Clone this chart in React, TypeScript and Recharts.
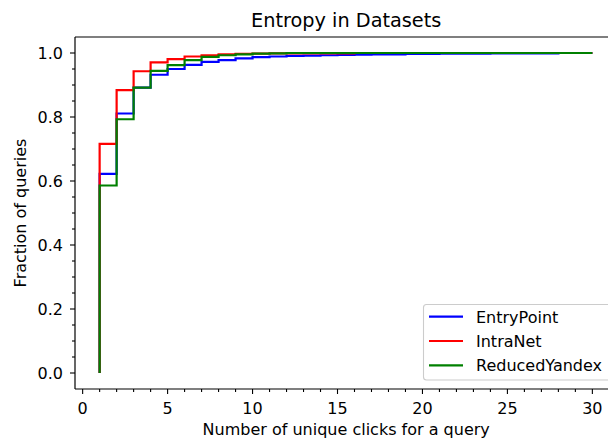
import React from 'react';
import { LineChart, Line, XAxis, YAxis, ReferenceLine, Customized } from 'recharts';

const xValues = [1, 2, 3, 4, 5, 6, 7, 8, 9, 10, 11, 12, 13, 14, 15, 16, 17, 18, 19, 20, 21, 22, 23, 24, 25, 26, 27, 28, 29, 30];
const startValue = 0;
const entryPoint = [0.622, 0.811, 0.892, 0.932, 0.950, 0.963, 0.972, 0.978, 0.983, 0.987, 0.989, 0.991, 0.992, 0.993, 0.994, 0.995, 0.996, 0.996, 0.997, 0.997, 0.998, 0.998, 0.998, 0.999, 0.999, 0.999, 0.999, 1.0, 1.0, 1.0];
const intraNet = [0.716, 0.884, 0.943, 0.971, 0.981, 0.989, 0.993, 0.996, 0.997, 0.998, 0.999, 0.999, 0.999, 0.999, 0.999, 1.0, 1.0, 1.0, 1.0, 1.0, 1.0, 1.0, 1.0, 1.0, 1.0, 1.0, 1.0, 1.0, 1.0, 1.0];
const reducedYandex = [0.586, 0.793, 0.892, 0.944, 0.962, 0.978, 0.988, 0.993, 0.996, 0.998, 0.999, 1.0, 1.0, 1.0, 1.0, 1.0, 1.0, 1.0, 1.0, 1.0, 1.0, 1.0, 1.0, 1.0, 1.0, 1.0, 1.0, 1.0, 1.0, 1.0];

const seriesNames = ['EntryPoint', 'IntraNet', 'ReducedYandex'];
const seriesColors = ['#0000ff', '#ff0000', '#008000'];
const seriesValues = [entryPoint, intraNet, reducedYandex];

const xTicks = [0, 1, 2, 3, 4, 5, 6, 7, 8, 9, 10, 11, 12, 13, 14, 15, 16, 17, 18, 19, 20, 21, 22, 23, 24, 25, 26, 27, 28, 29, 30, 31];
const yTicks = [0, 0.05, 0.1, 0.15, 0.2, 0.25, 0.3, 0.35, 0.4, 0.45, 0.5, 0.55, 0.6, 0.65, 0.7, 0.75, 0.8, 0.85, 0.9, 0.95, 1.0];

const title = 'Entropy in Datasets';
const xLabel = 'Number of unique clicks for a query';
const yLabel = 'Fraction of queries';

const FONT = '"DejaVu Sans", sans-serif';
const FS = 16;

const buildSeries = (vals: number[]) => [
  { x: xValues[0], y: startValue },
  ...xValues.map((x, i) => ({ x, y: vals[i] })),
];

const XTick = (props: any) => {
  const { x, y, payload } = props;
  const v = payload.value;
  const major = v % 5 === 0;
  return (
    <g>
      <line x1={x} x2={x} y1={y} y2={y + (major ? 5 : 3)} stroke="#000" strokeWidth={1.1} />
      {major && (
        <text x={x} y={y + 24.5} textAnchor="middle" fontSize={FS} fontFamily={FONT} fill="#000">
          {v}
        </text>
      )}
    </g>
  );
};

const YTick = (props: any) => {
  const { x, y, payload } = props;
  const v = payload.value;
  const major = Math.abs(v * 5 - Math.round(v * 5)) < 1e-6;
  return (
    <g>
      <line x1={x - (major ? 5 : 3)} x2={x} y1={y} y2={y} stroke="#000" strokeWidth={1.1} />
      {major && (
        <text x={x - 12} y={y + 5.8} textAnchor="end" fontSize={FS} fontFamily={FONT} fill="#000">
          {v.toFixed(1)}
        </text>
      )}
    </g>
  );
};

const Decorations = () => {
  const lx = 423.5;
  const ly = 304.5;
  const rowY = [316.7, 341, 365.3];
  return (
    <g>
      <text x={346.2} y={26.7} textAnchor="middle" fontSize={19.3} fontFamily={FONT} fill="#000">
        {title}
      </text>
      <text x={346.2} y={435} textAnchor="middle" fontSize={FS} fontFamily={FONT} fill="#000">
        {xLabel}
      </text>
      <text
        x={26}
        y={213}
        textAnchor="middle"
        fontSize={FS}
        fontFamily={FONT}
        fill="#000"
        transform="rotate(-90 26 213)"
      >
        {yLabel}
      </text>
      <rect x={lx} y={ly} width={220} height={75.5} rx={3} ry={3} fill="#fff" fillOpacity={0.8} stroke="#cccccc" strokeWidth={1.1} />
      {seriesNames.map((name, i) => (
        <g key={name}>
          <line x1={429} x2={463} y1={rowY[i]} y2={rowY[i]} stroke={seriesColors[i]} strokeWidth={2.2} />
          <text x={476} y={rowY[i] + 5.8} fontSize={FS} fontFamily={FONT} fill="#000">
            {name}
          </text>
        </g>
      ))}
    </g>
  );
};

export default function App() {
  return (
    <div style={{ position: 'absolute', left: 0, top: 0, width: 608, height: 439, overflow: 'hidden', background: '#fff' }}>
      <LineChart width={640} height={439} margin={{ top: 37, right: 23, bottom: 0, left: 0 }}>
        <XAxis
          type="number"
          dataKey="x"
          domain={[-0.45, 31.45]}
          ticks={xTicks}
          interval={0}
          allowDataOverflow
          axisLine={{ stroke: '#000', strokeWidth: 1.2 }}
          tickLine={false}
          tickSize={0}
          tickMargin={0}
          tick={XTick}
          height={50}
        />
        <YAxis
          type="number"
          dataKey="y"
          domain={[-0.05, 1.05]}
          ticks={yTicks}
          interval={0}
          allowDataOverflow
          axisLine={{ stroke: '#000', strokeWidth: 1.2 }}
          tickLine={false}
          tickSize={0}
          tickMargin={0}
          tick={YTick}
          width={75}
        />
        <ReferenceLine y={1.05} stroke="#000" strokeWidth={1.2} />
        <ReferenceLine x={31.45} stroke="#000" strokeWidth={1.2} />
        {seriesValues.map((vals, i) => (
          <Line
            key={seriesNames[i]}
            data={buildSeries(vals)}
            dataKey="y"
            name={seriesNames[i]}
            type="stepAfter"
            stroke={seriesColors[i]}
            strokeWidth={2.2}
            dot={false}
            activeDot={false}
            isAnimationActive={false}
          />
        ))}
        <Customized component={Decorations} />
      </LineChart>
    </div>
  );
}
